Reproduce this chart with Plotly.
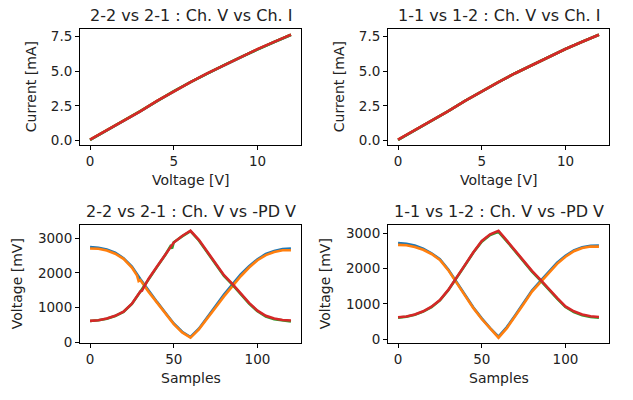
import plotly.graph_objects as go

# ---------------- data ----------------
# Top plots: channel voltage [V] vs current [mA]
volt = [0, 1, 2, 3, 4, 5, 6, 7, 8, 9, 10, 11, 12]
tl_blue = [0.04, 0.71, 1.41, 2.10, 2.84, 3.55, 4.21, 4.84, 5.44, 6.02, 6.59, 7.12, 7.63]
tl_orange = [0.05, 0.72, 1.42, 2.11, 2.85, 3.56, 4.22, 4.85, 5.45, 6.03, 6.60, 7.13, 7.64]
tl_green = [0.04, 0.71, 1.42, 2.11, 2.84, 3.56, 4.21, 4.85, 5.45, 6.02, 6.60, 7.12, 7.64]
tl_red = [0.05, 0.72, 1.42, 2.10, 2.85, 3.56, 4.22, 4.85, 5.45, 6.03, 6.60, 7.13, 7.65]

tr_blue = [0.04, 0.72, 1.43, 2.12, 2.86, 3.57, 4.22, 4.86, 5.46, 6.04, 6.61, 7.14, 7.64]
tr_orange = [0.05, 0.73, 1.43, 2.12, 2.86, 3.57, 4.23, 4.86, 5.46, 6.04, 6.61, 7.14, 7.65]
tr_green = [0.04, 0.72, 1.43, 2.12, 2.86, 3.57, 4.22, 4.86, 5.46, 6.04, 6.61, 7.14, 7.64]
tr_red = [0.05, 0.73, 1.43, 2.12, 2.86, 3.57, 4.22, 4.86, 5.46, 6.04, 6.61, 7.14, 7.65]

# Bottom plots: samples vs voltage [mV]
samples = [0, 5, 10, 15, 20, 25, 30, 35, 40, 45, 50, 55, 60,
           65, 70, 75, 80, 85, 90, 95, 100, 105, 110, 115, 120]

bl_blue = [2740, 2720, 2670, 2580, 2420, 2180, 1820, 1480, 1160, 850, 540, 300, 150,
           390, 700, 1040, 1370, 1670, 1950, 2190, 2390, 2540, 2630, 2680, 2700]
bl_orange_x = [0, 5, 10, 15, 20, 25, 28, 29, 30, 31, 35, 40, 45, 50, 55, 60,
               65, 70, 75, 80, 85, 90, 95, 100, 105, 110, 115, 120]
bl_orange = [2700, 2690, 2640, 2550, 2400, 2150, 1930, 1760, 1790, 1720, 1450, 1140, 830, 520, 280, 130,
             370, 670, 1000, 1320, 1620, 1900, 2150, 2360, 2510, 2600, 2650, 2650]
bl_green_x = [0, 5, 10, 15, 20, 25, 30, 35, 40, 45, 48, 49, 50, 55, 60,
              65, 70, 75, 80, 85, 90, 95, 100, 105, 110, 115, 120]
bl_green = [610, 630, 675, 755, 875, 1100, 1450, 1820, 2170, 2520, 2760, 2700, 2880, 3050, 3200,
            2930, 2600, 2250, 1910, 1660, 1380, 1110, 890, 740, 660, 620, 600]
bl_red_x = [0, 5, 10, 15, 20, 25, 30, 31, 32, 35, 40, 45, 50, 55, 60,
            65, 70, 75, 80, 85, 90, 95, 100, 105, 110, 115, 120]
bl_red = [615, 630, 680, 760, 880, 1110, 1460, 1480, 1570, 1830, 2180, 2530, 2870, 3060, 3210,
          2950, 2620, 2270, 1930, 1680, 1400, 1130, 910, 760, 680, 640, 625]

br_blue = [2730, 2710, 2660, 2570, 2440, 2270, 1980, 1620, 1250, 900, 590, 310, 70,
           340, 680, 1040, 1380, 1650, 1910, 2170, 2370, 2520, 2610, 2650, 2660]
br_orange = [2680, 2670, 2620, 2540, 2420, 2250, 1960, 1600, 1230, 880, 570, 290, 40,
             310, 640, 1000, 1350, 1620, 1880, 2140, 2340, 2500, 2590, 2630, 2630]
br_green = [610, 635, 690, 780, 910, 1100, 1390, 1730, 2100, 2460, 2770, 2960, 3050,
            2780, 2490, 2200, 1920, 1670, 1400, 1150, 910, 770, 680, 630, 610]
br_red = [620, 640, 700, 790, 920, 1110, 1400, 1740, 2110, 2470, 2790, 2980, 3080,
          2800, 2510, 2220, 1940, 1690, 1420, 1170, 930, 790, 700, 650, 630]

titles = ["2-2 vs 2-1 : Ch. V vs Ch. I", "1-1 vs 1-2 : Ch. V vs Ch. I",
          "2-2 vs 2-1 : Ch. V vs -PD V", "1-1 vs 1-2 : Ch. V vs -PD V"]
xlabels = ["Voltage [V]", "Voltage [V]", "Samples", "Samples"]
ylabels = ["Current [mA]", "Current [mA]", "Voltage [mV]", "Voltage [mV]"]

# ---------------- layout helpers ----------------
W, H = 633, 400
COLORS = ["#1f77b4", "#ff7f0e", "#2ca02c", "#d62728"]
FONT = "DejaVu Sans"

# axes boxes in pixels: (left, right, top, bottom)
boxes = [(80, 301, 29, 147), (388, 609, 29, 147),
         (80, 301, 229, 349), (388, 609, 229, 349)]

panels = [
    [(volt, tl_blue), (volt, tl_orange), (volt, tl_green), (volt, tl_red)],
    [(volt, tr_blue), (volt, tr_orange), (volt, tr_green), (volt, tr_red)],
    [(samples, bl_blue), (bl_orange_x, bl_orange), (bl_green_x, bl_green), (bl_red_x, bl_red)],
    [(samples, br_blue), (samples, br_orange), (samples, br_green), (samples, br_red)],
]
xticks = [[0, 5, 10], [0, 5, 10], [0, 50, 100], [0, 50, 100]]
yticks = [[0, 2.5, 5, 7.5], [0, 2.5, 5, 7.5], [0, 1000, 2000, 3000], [0, 1000, 2000, 3000]]
ytickfmt = [".1f", ".1f", "d", "d"]

fig = go.Figure()
annotations = []
layout = {}

def margin_range(vals):
    lo, hi = min(vals), max(vals)
    pad = (hi - lo) * 0.05
    return [lo - pad, hi + pad]

for i, (panel, box) in enumerate(zip(panels, boxes)):
    n = "" if i == 0 else str(i + 1)
    xa, ya = "x" + n, "y" + n
    allx, ally = [], []
    for (xs, ys), c in zip(panel, COLORS):
        fig.add_trace(go.Scatter(x=xs, y=ys, mode="lines", xaxis=xa, yaxis=ya,
                                 line=dict(color=c, width=2.6), showlegend=False,
                                 hoverinfo="skip"))
        allx += list(xs)
        ally += list(ys)
    l, r, t, b = box
    axis_common = dict(showline=True, linecolor="black", linewidth=1, mirror=True,
                       ticks="outside", ticklen=4, tickwidth=1, tickcolor="black",
                       showgrid=False, zeroline=False,
                       tickfont=dict(family=FONT, size=13.5, color="#222"))
    layout["xaxis" + n] = dict(axis_common, domain=[l / W, r / W], anchor=ya,
                               range=margin_range(allx), tickvals=xticks[i])
    layout["yaxis" + n] = dict(axis_common, domain=[1 - b / H, 1 - t / H], anchor=xa,
                               range=margin_range(ally), tickvals=yticks[i],
                               tickformat=ytickfmt[i])
    cx = (l + r) / 2 / W
    annotations.append(dict(text=titles[i], x=cx, y=1 - (t - 14) / H, xref="paper", yref="paper",
                            showarrow=False, xanchor="center", yanchor="middle",
                            font=dict(family=FONT, size=16, color="#222")))
    annotations.append(dict(text=xlabels[i], x=cx, y=1 - (b + 36) / H, xref="paper", yref="paper",
                            showarrow=False, xanchor="center", yanchor="middle",
                            font=dict(family=FONT, size=14, color="#222")))
    ylx = (l - 49) if i in (0, 1) else (l - 63)
    annotations.append(dict(text=ylabels[i], x=ylx / W, y=1 - (t + b) / 2 / H, xref="paper",
                            yref="paper", showarrow=False, xanchor="center", yanchor="middle",
                            textangle=-90,
                            font=dict(family=FONT, size=14, color="#222")))

fig.update_layout(width=W, height=H, margin=dict(l=0, r=0, t=0, b=0),
                  paper_bgcolor="white", plot_bgcolor="white",
                  annotations=annotations, **layout)

fig.write_html("out.html")
